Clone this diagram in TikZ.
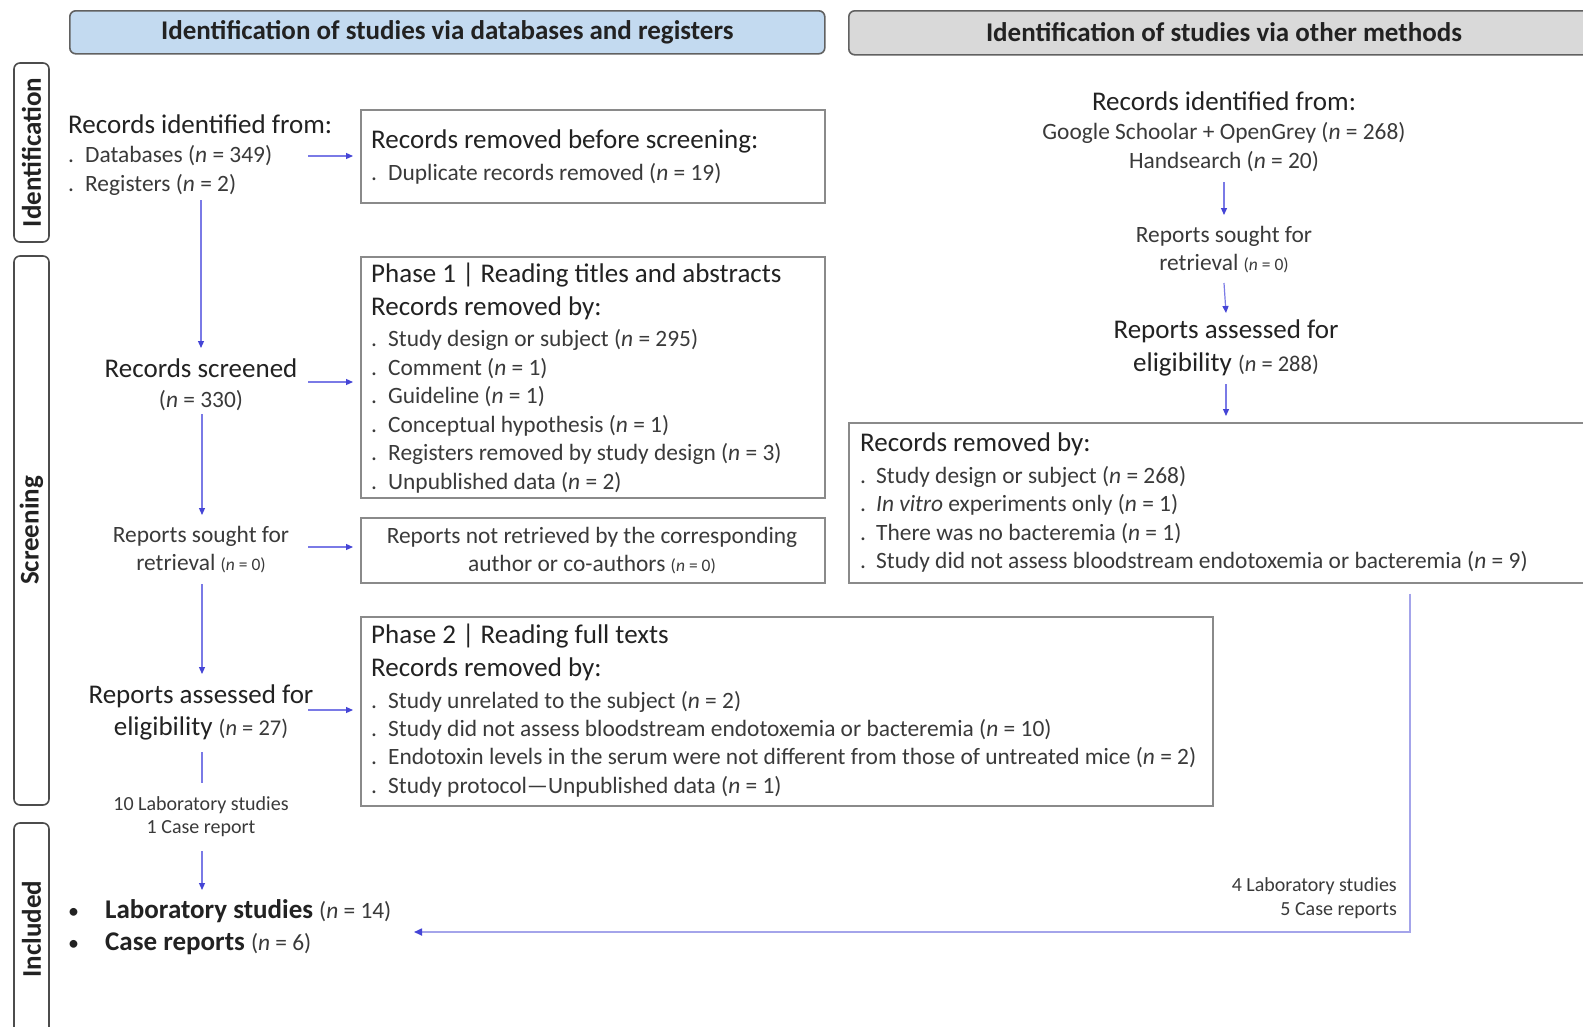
\documentclass[tikz,border=0pt]{standalone}
\usepackage{fontspec}
\setmainfont{Carlito}
\usetikzlibrary{arrows.meta,calc}

\definecolor{arrowblue}{HTML}{4545D6}
\definecolor{arrowline}{HTML}{7A7AE6}
\definecolor{linkblue}{HTML}{A4A4EA}
\definecolor{boxgray}{HTML}{8A8A8A}
\definecolor{headblue}{HTML}{C3DAF0}
\definecolor{headgray}{HTML}{D9D9D9}
\definecolor{txtdark}{HTML}{222222}
\definecolor{txtsub}{HTML}{3A3A3A}

\newcommand{\fsz}[2]{\fontsize{#1}{#2}\selectfont}
\newcommand{\nn}{\textit{n}}
\newcommand{\itemdot}{\makebox[17pt][l]{.}}

\begin{document}
\begin{tikzpicture}[x=1pt,y=-1pt,
  header/.style={draw=black!62, line width=1.6, rounded corners=6, inner sep=0,
    anchor=north west, font=\fsz{27}{32}\bfseries, text=txtdark},
  side/.style={draw=black!70, line width=1.6, rounded corners=6, inner sep=0,
    rotate=90, minimum height=35, font=\fsz{27}{32}\bfseries, text=txtdark},
  box/.style={draw=boxgray, line width=1.6, inner sep=0, anchor=north west},
  ttl/.style={inner sep=0, font=\fsz{27}{33}, text=txtdark},
  itm/.style={inner sep=0, yshift=-2, font=\fsz{23.4}{28.5}, text=txtsub},
  sml/.style={inner sep=0, font=\fsz{20}{24}, text=txtsub},
  inc/.style={inner sep=0, font=\fsz{27}{33}, text=txtdark},
  arr/.style={draw=arrowline, line width=1.2, -{Triangle[length=7,width=6,color=arrowblue]}},
  link/.style={draw=linkblue, line width=1.6, -{Triangle[length=8,width=7,color=arrowblue]}}
]
\useasboundingbox (0,0) rectangle (1583,1026);
\fill[white] (0,0) rectangle (1583,1026);

% column headers
\node[header, fill=headblue, minimum width=755, minimum height=43] (hdb) at (69,10)
  {Identification of studies via databases and registers};
\node[header, fill=headgray, minimum width=750, minimum height=44] (hot) at (848,10) {};
\node[inner sep=0, font=\fsz{27}{32}\bfseries, text=txtdark] (hottxt) at (1224,32)
  {Identification of studies via other methods};

% stage labels
\node[side, minimum width=179] (sid) at (31.5,152.5) {Identification};
\node[side, minimum width=549] (sscr) at (31.5,530.5) {Screening};
\node[side, minimum width=212] (sinc) at (31.5,929) {Included};

% ---------- databases and registers ----------
\node[ttl, anchor=west] (recid) at (68,124) {Records identified from:};
\node[itm, anchor=west] (db) at (68,154) {\itemdot Databases (\nn{} = 349)};
\node[itm, anchor=west] (rg) at (68,183) {\itemdot Registers (\nn{} = 2)};

\node[box, minimum width=464, minimum height=93] (rmv) at (360,109) {};
\node[ttl, anchor=west] (rmv1) at (371,141) {Records removed before screening:};
\node[itm, anchor=west] (rmv2) at (371,172) {\itemdot Duplicate records removed (\nn{} = 19)};

\node[ttl] (scr1) at (201,368) {Records screened};
\node[itm] (scr2) at (201,399) {(\nn{} = 330)};

\node[box, minimum width=464, minimum height=241] (p1) at (360,256) {};
\node[ttl, anchor=west] (p1a) at (371,275) {Phase 1 | Reading titles and abstracts};
\node[ttl, anchor=west] (p1b) at (371,308) {Records removed by:};
\node[itm, anchor=west] (p1c) at (371,338) {\itemdot Study design or subject (\nn{} = 295)};
\node[itm, anchor=west] (p1d) at (371,367) {\itemdot Comment (\nn{} = 1)};
\node[itm, anchor=west] (p1e) at (371,395) {\itemdot Guideline (\nn{} = 1)};
\node[itm, anchor=west] (p1f) at (371,424) {\itemdot Conceptual hypothesis (\nn{} = 1)};
\node[itm, anchor=west] (p1g) at (371,452) {\itemdot Registers removed by study design (\nn{} = 3)};
\node[itm, anchor=west] (p1h) at (371,481) {\itemdot Unpublished data (\nn{} = 2)};

\node[itm] (rs1) at (201,534) {Reports sought for};
\node[itm] (rs2) at (201,562) {retrieval {\fsz{17.5}{21}(\nn{} = 0)}};

\node[box, minimum width=464, minimum height=65] (nr) at (360,517) {};
\node[itm] (nr1) at (592,535) {Reports not retrieved by the corresponding};
\node[itm] (nr2) at (592,563) {author or co-authors {\fsz{17.5}{21}(\nn{} = 0)}};

\node[ttl] (ra1) at (201,696) {Reports assessed for};
\node[ttl] (ra2) at (201,728) {eligibility {\fsz{22.5}{27}\color{txtsub}(\nn{} = 27)}};

\node[box, minimum width=852, minimum height=189] (p2) at (360,616) {};
\node[ttl, anchor=west] (p2a) at (371,636) {Phase 2 | Reading full texts};
\node[ttl, anchor=west] (p2b) at (371,669) {Records removed by:};
\node[itm, anchor=west] (p2c) at (371,700) {\itemdot Study unrelated to the subject (\nn{} = 2)};
\node[itm, anchor=west] (p2d) at (371,728) {\itemdot Study did not assess bloodstream endotoxemia or bacteremia (\nn{} = 10)};
\node[itm, anchor=west] (p2e) at (371,756) {\itemdot Endotoxin levels in the serum were not different from those of untreated mice (\nn{} = 2)};
\node[itm, anchor=west] (p2f) at (371,785) {\itemdot Study protocol---Unpublished data (\nn{} = 1)};

\node[sml] (lab1) at (201,805) {10 Laboratory studies};
\node[sml] (lab2) at (201,829) {1 Case report};

\node[inc, anchor=west] (inc1) at (68,911)
  {\makebox[37pt][l]{\fsz{22}{26}\textbullet}\textbf{Laboratory studies} {\fsz{23.4}{28}\color{txtsub}(\nn{} = 14)}};
\node[inc, anchor=west] (inc2) at (68,944)
  {\makebox[37pt][l]{\fsz{22}{26}\textbullet}\textbf{Case reports} {\fsz{23.4}{28}\color{txtsub}(\nn{} = 6)}};

% ---------- other methods ----------
\node[ttl] (ri1) at (1224,101) {Records identified from:};
\node[itm] (ri2) at (1224,131) {Google Schoolar + OpenGrey (\nn{} = 268)};
\node[itm] (ri3) at (1224,160) {Handsearch (\nn{} = 20)};

\node[itm] (rsr1) at (1224,234) {Reports sought for};
\node[itm] (rsr2) at (1224,262) {retrieval {\fsz{17.5}{21}(\nn{} = 0)}};

\node[ttl] (rar1) at (1226,331) {Reports assessed for};
\node[ttl] (rar2) at (1226,364) {eligibility {\fsz{22.5}{27}\color{txtsub}(\nn{} = 288)}};

\node[box, minimum width=750, minimum height=160] (orm) at (848,422) {};
\node[ttl, anchor=west] (orm1) at (860,444) {Records removed by:};
\node[itm, anchor=west] (orm2) at (860,475) {\makebox[16pt][l]{.}Study design or subject (\nn{} = 268)};
\node[itm, anchor=west] (orm3) at (860,503) {\makebox[16pt][l]{.}\textit{In vitro} experiments only (\nn{} = 1)};
\node[itm, anchor=west] (orm4) at (860,532) {\makebox[16pt][l]{.}There was no bacteremia (\nn{} = 1)};
\node[itm, anchor=west] (orm5) at (860,560) {\makebox[16pt][l]{.}Study did not assess bloodstream endotoxemia or bacteremia (\nn{} = 9)};

\node[sml, anchor=east] (olab1) at (1397,886) {4 Laboratory studies};
\node[sml, anchor=east] (olab2) at (1397,911) {5 Case reports};

% ---------- connectors ----------
% left column, downwards
\draw[arr] ($(rg.center -| scr1.center)+(0,15)$) -- ($(scr1.center)+(0,-20)$);
\draw[arr] ($(scr2.center)+(1,13)$) -- ($(rs1.center)+(1,-21)$);
\draw[arr] ($(rs2.center -| rs1.center)+(1,20)$) -- ($(ra1.center)+(1,-22)$);
\draw[draw=arrowline, line width=1.2] ($(ra2.center -| ra1.center)+(1,24)$) -- ($(lab1.center)+(1,-22)$);
\draw[arr] ($(lab2.center)+(1,22)$) -- ($(lab2.center)+(1,61)$);

% left column, sideways into the exclusion boxes
\coordinate (s1) at (308,156);
\coordinate (s2) at (308,382);
\coordinate (s3) at (308,547);
\coordinate (s4) at (308,710);
\draw[arr, shorten >=7] (s1) -- (s1 -| rmv.west);
\draw[arr, shorten >=7] (s2) -- (s2 -| p1.west);
\draw[arr, shorten >=7] (s3) -- (s3 -| nr.west);
\draw[arr, shorten >=7] (s4) -- (s4 -| p2.west);

% right column, downwards
\draw[arr] ($(ri3.center)+(0,20)$) -- ($(rsr1.center)+(0,-21)$);
\draw[arr] ($(rsr2.center)+(0,19)$) -- ($(rar1.center)+(0,-18)$);
\draw[arr, shorten >=6] ($(rar2.center)+(0,20)$) -- (rar2.center |- orm.north);

% studies from other methods joining the included set
\coordinate (jn) at (414,932);
\draw[link] ($(orm.south west)+(562,10)$) |- (jn);

\end{tikzpicture}
\end{document}
